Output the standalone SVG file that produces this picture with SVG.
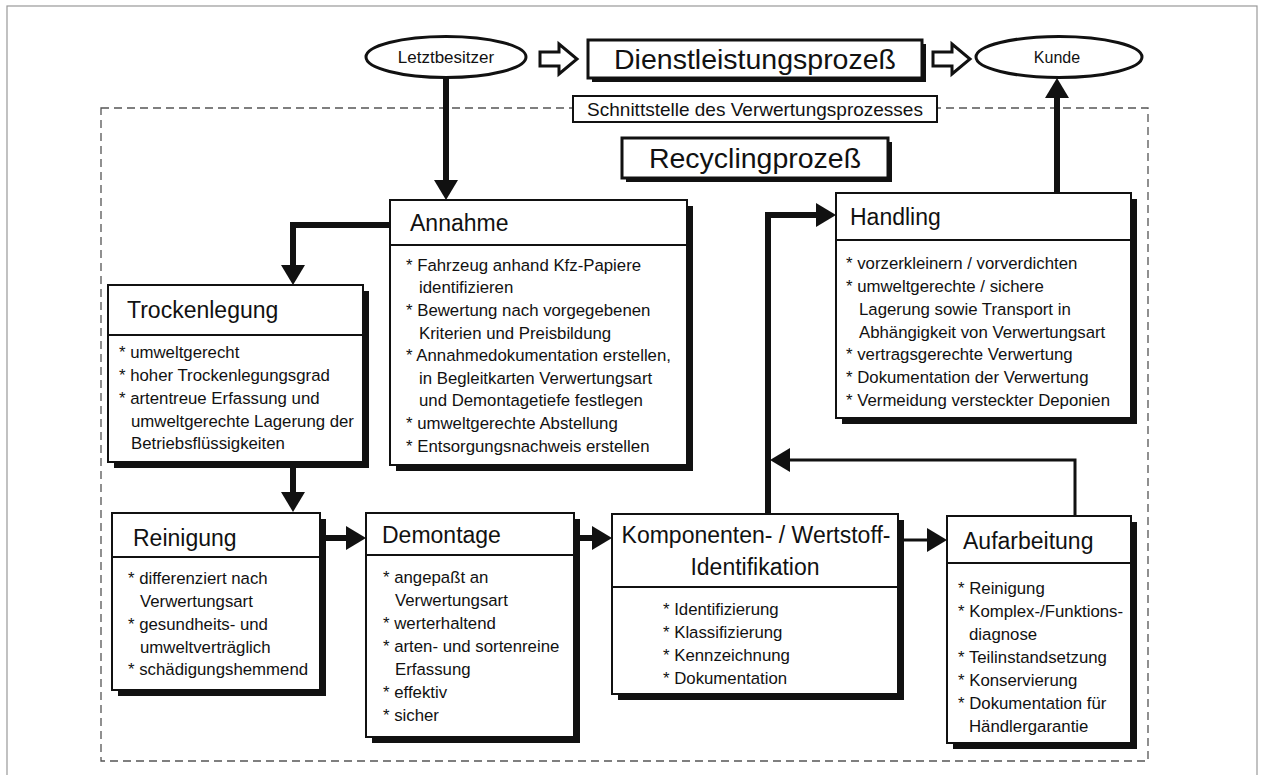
<svg xmlns="http://www.w3.org/2000/svg" width="1261" height="775" viewBox="0 0 1261 775">
<defs>
<style>
text{font-family:"Liberation Sans",Arial,sans-serif;fill:#111}
.box{fill:#fff;stroke:#111;stroke-width:2}
.shadow{fill:#111}
.div{stroke:#111;stroke-width:2}
.title{font-size:23px}
.big{font-size:28.5px}
.body{font-size:16.8px}
.ell{fill:#fff;stroke:#111;stroke-width:3}
.con{fill:none;stroke:#111;stroke-width:6}
.thin{fill:none;stroke:#111;stroke-width:3}
.hollow{fill:#fff;stroke:#111;stroke-width:3;stroke-linejoin:miter}
</style>
<marker id="ah" markerUnits="userSpaceOnUse" markerWidth="20" markerHeight="24" refX="0" refY="12" orient="auto">
<path d="M0,0 L20,12 L0,24 z" fill="#111"/>
</marker>
</defs>
<rect x="0" y="0" width="1261" height="775" fill="#fff"/>
<rect x="7" y="6" width="1250" height="780" fill="none" stroke="#999" stroke-width="1.2"/>
<rect id="frame" x="101" y="108" width="1047" height="653" fill="none" stroke="#555" stroke-width="1.3" stroke-dasharray="8,5"/>

<g id="connectors">
<path class="con" d="M446,78 V180" marker-end="url(#ah)"/>
<path class="con" d="M390,225 H293 V265" marker-end="url(#ah)"/>
<path class="con" d="M293,468 V492" marker-end="url(#ah)"/>
<path class="con" d="M326,538 H346" marker-end="url(#ah)"/>
<path class="con" d="M580,538 H592" marker-end="url(#ah)"/>
<path class="thin" d="M904,540 H927" marker-end="url(#ah)"/>
<path class="con" d="M768,514 V215 H816" marker-end="url(#ah)"/>
<path class="thin" d="M1075,516 V460 H790" marker-end="url(#ah)"/>
<path class="con" d="M1057,193 V98" marker-end="url(#ah)"/>
<path class="hollow" d="M540,52 H559 V44 L577,59 L559,74 V66 H540 Z"/>
<path class="hollow" d="M933,52 H952 V44 L970,59 L952,74 V66 H933 Z"/>
</g>

<g id="letztbesitzer">
<ellipse class="ell" cx="446" cy="57" rx="80" ry="20.5"/>
<text x="446" y="63" font-size="17" text-anchor="middle">Letztbesitzer</text>
</g>

<g id="dienstleistung">
<rect class="shadow" x="592" y="44" width="334" height="38"/>
<rect x="588" y="40" width="334" height="38" fill="#fff" stroke="#111" stroke-width="3"/>
<text class="big" x="755" y="69" text-anchor="middle">Dienstleistungsprozeß</text>
</g>

<g id="kunde">
<ellipse class="ell" cx="1059" cy="57" rx="83" ry="20.5"/>
<text x="1057" y="63" font-size="16" text-anchor="middle">Kunde</text>
</g>

<g id="schnittstelle">
<rect x="573" y="96" width="364" height="26" fill="#fff" stroke="#111" stroke-width="2"/>
<text x="755" y="116" font-size="19" text-anchor="middle">Schnittstelle des Verwertungsprozesses</text>
</g>

<g id="recycling">
<rect class="shadow" x="626" y="142" width="266" height="40"/>
<rect x="622" y="138" width="266" height="40" fill="#fff" stroke="#111" stroke-width="3"/>
<text class="big" x="755" y="168" text-anchor="middle">Recyclingprozeß</text>
</g>

<g id="annahme">
<rect class="shadow" x="396" y="206" width="297" height="265"/>
<rect class="box" x="390" y="200" width="297" height="265"/>
<line class="div" x1="390" y1="245" x2="687" y2="245"/>
<text class="title" x="410" y="231">Annahme</text>
<g class="body">
<text x="406" y="271">* Fahrzeug anhand Kfz-Papiere</text>
<text x="419" y="293">identifizieren</text>
<text x="406" y="316">* Bewertung nach vorgegebenen</text>
<text x="419" y="339">Kriterien und Preisbildung</text>
<text x="406" y="361">* Annahmedokumentation erstellen,</text>
<text x="419" y="384">in Begleitkarten Verwertungsart</text>
<text x="419" y="406">und Demontagetiefe festlegen</text>
<text x="406" y="429">* umweltgerechte Abstellung</text>
<text x="406" y="452">* Entsorgungsnachweis erstellen</text>
</g>
</g>

<g id="trockenlegung">
<rect class="shadow" x="114" y="291" width="255" height="177"/>
<rect class="box" x="108" y="285" width="255" height="177"/>
<line class="div" x1="108" y1="335" x2="363" y2="335"/>
<text class="title" x="127" y="318">Trockenlegung</text>
<g class="body">
<text x="119" y="358">* umweltgerecht</text>
<text x="119" y="381">* hoher Trockenlegungsgrad</text>
<text x="119" y="404">* artentreue Erfassung und</text>
<text x="131" y="427">umweltgerechte Lagerung der</text>
<text x="131" y="449">Betriebsflüssigkeiten</text>
</g>
</g>

<g id="reinigung">
<rect class="shadow" x="118" y="519" width="208" height="177"/>
<rect class="box" x="112" y="513" width="208" height="177"/>
<line class="div" x1="112" y1="557" x2="320" y2="557"/>
<text class="title" x="133" y="546">Reinigung</text>
<g class="body">
<text x="128" y="584">* differenziert nach</text>
<text x="140" y="607">Verwertungsart</text>
<text x="128" y="630">* gesundheits- und</text>
<text x="140" y="653">umweltverträglich</text>
<text x="128" y="675">* schädigungshemmend</text>
</g>
</g>

<g id="demontage">
<rect class="shadow" x="372" y="519" width="208" height="224"/>
<rect class="box" x="366" y="513" width="208" height="224"/>
<line class="div" x1="366" y1="555" x2="574" y2="555"/>
<text class="title" x="382" y="543">Demontage</text>
<g class="body">
<text x="383" y="583">* angepaßt an</text>
<text x="395" y="606">Verwertungsart</text>
<text x="383" y="629">* werterhaltend</text>
<text x="383" y="652">* arten- und sortenreine</text>
<text x="395" y="675">Erfassung</text>
<text x="383" y="698">* effektiv</text>
<text x="383" y="721">* sicher</text>
</g>
</g>

<g id="komponenten">
<rect class="shadow" x="618" y="520" width="286" height="180"/>
<rect class="box" x="612" y="514" width="286" height="180"/>
<line class="div" x1="612" y1="587" x2="898" y2="587"/>
<text class="title" x="756" y="543" text-anchor="middle">Komponenten- / Wertstoff-</text>
<text class="title" x="755" y="575" text-anchor="middle">Identifikation</text>
<g class="body">
<text x="663" y="615">* Identifizierung</text>
<text x="663" y="638">* Klassifizierung</text>
<text x="663" y="661">* Kennzeichnung</text>
<text x="663" y="684">* Dokumentation</text>
</g>
</g>

<g id="aufarbeitung">
<rect class="shadow" x="953" y="522" width="184" height="227"/>
<rect class="box" x="947" y="516" width="184" height="227"/>
<line class="div" x1="947" y1="563" x2="1131" y2="563"/>
<text class="title" x="963" y="549">Aufarbeitung</text>
<g class="body">
<text x="958" y="594">* Reinigung</text>
<text x="958" y="617">* Komplex-/Funktions-</text>
<text x="969" y="640">diagnose</text>
<text x="958" y="663">* Teilinstandsetzung</text>
<text x="958" y="686">* Konservierung</text>
<text x="958" y="709">* Dokumentation  für</text>
<text x="969" y="732">Händlergarantie</text>
</g>
</g>

<g id="handling">
<rect class="shadow" x="842" y="199" width="295" height="225"/>
<rect class="box" x="836" y="193" width="295" height="225"/>
<line class="div" x1="836" y1="240" x2="1131" y2="240"/>
<text class="title" x="850" y="225">Handling</text>
<g class="body">
<text x="846" y="269">* vorzerkleinern / vorverdichten</text>
<text x="846" y="292">* umweltgerechte / sichere</text>
<text x="859" y="315">Lagerung sowie Transport in</text>
<text x="859" y="338">Abhängigkeit von Verwertungsart</text>
<text x="846" y="360">* vertragsgerechte Verwertung</text>
<text x="846" y="383">* Dokumentation der Verwertung</text>
<text x="846" y="406">* Vermeidung versteckter Deponien</text>
</g>
</g>
</svg>
